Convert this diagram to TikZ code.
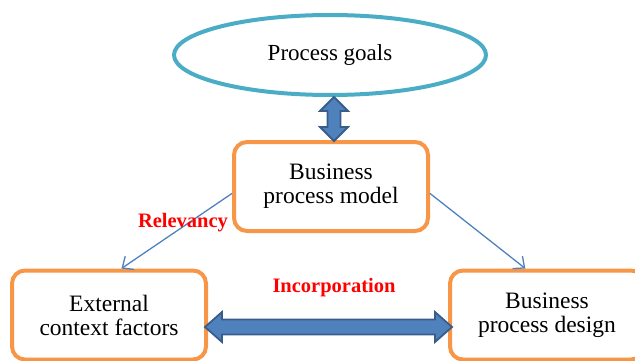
\documentclass[tikz,border=0pt]{standalone}
\usepackage{fontspec}
\setmainfont{Liberation Serif}
\usetikzlibrary{shapes.geometric,arrows.meta,calc}
\definecolor{borange}{HTML}{F79646}
\definecolor{bteal}{HTML}{4BACC6}
\definecolor{bblue}{HTML}{4F81BD}
\definecolor{bdark}{HTML}{385D8A}
\tikzset{
  boxnode/.style={draw=borange, line width=4pt, rounded corners=13pt, fill=white,
    minimum width=194pt, minimum height=89pt, align=center,
    font=\fontsize{23.5}{24}\selectfont},
  goalnode/.style={ellipse, draw=bteal, line width=4pt, minimum width=312pt,
    minimum height=80pt, font=\fontsize{23}{26}\selectfont},
  fatarrow/.style={draw=bdark, fill=bblue, line width=1.8pt, line join=miter},
  thinarrow/.style={draw=bblue, line width=1.3pt, -{Straight Barb[length=9pt,width=16pt]}},
  lab/.style={text=red, font=\fontsize{20.5}{23}\selectfont\bfseries}
}
\begin{document}
\begin{tikzpicture}[x=1pt,y=-1pt]
\useasboundingbox (0,0) rectangle (635,361);
\node[goalnode] (goals) at (330,55) {Process goals};
\node[boxnode] (model) at (331,186.5) {Business\\process model\rule[-3pt]{0pt}{0pt}};
\node[boxnode] (ext) at (109,315) {External\\context factors};
\node[boxnode] (des) at (547,315) {Business\\process design\rule[-3pt]{0pt}{0pt}};
% vertical fat double arrow between goals and model
\coordinate (vt) at (334,97);
\coordinate (vb) at (334,141);
\path[fatarrow] (vt) -- ++(14,14) -- ++(-7.5,0) -- ($(vb)+(6.5,-14)$) -- ++(7.5,0)
  -- (vb) -- ++(-14,-14) -- ++(7.5,0) -- ($(vt)+(-6.5,14)$) -- ++(-7.5,0) -- cycle;
% horizontal fat double arrow between ext and des
\coordinate (hl) at (205,327);
\coordinate (hr) at (452,327);
\path[fatarrow] (hl) -- ++(17,-15) -- ++(0,7.5) -- ($(hr)+(-17,-7.5)$) -- ++(0,-7.5)
  -- (hr) -- ++(-17,15) -- ++(0,-7.5) -- ($(hl)+(17,7.5)$) -- ++(0,7.5) -- cycle;
\draw[thinarrow] (model.184) -- (ext.75);
\draw[thinarrow] (model.-4) -- (des.115);
\node[lab] (rel) at (183,223) {Relevancy};
\node[lab] (inc) at (334,288) {Incorporation};
\end{tikzpicture}
\end{document}
